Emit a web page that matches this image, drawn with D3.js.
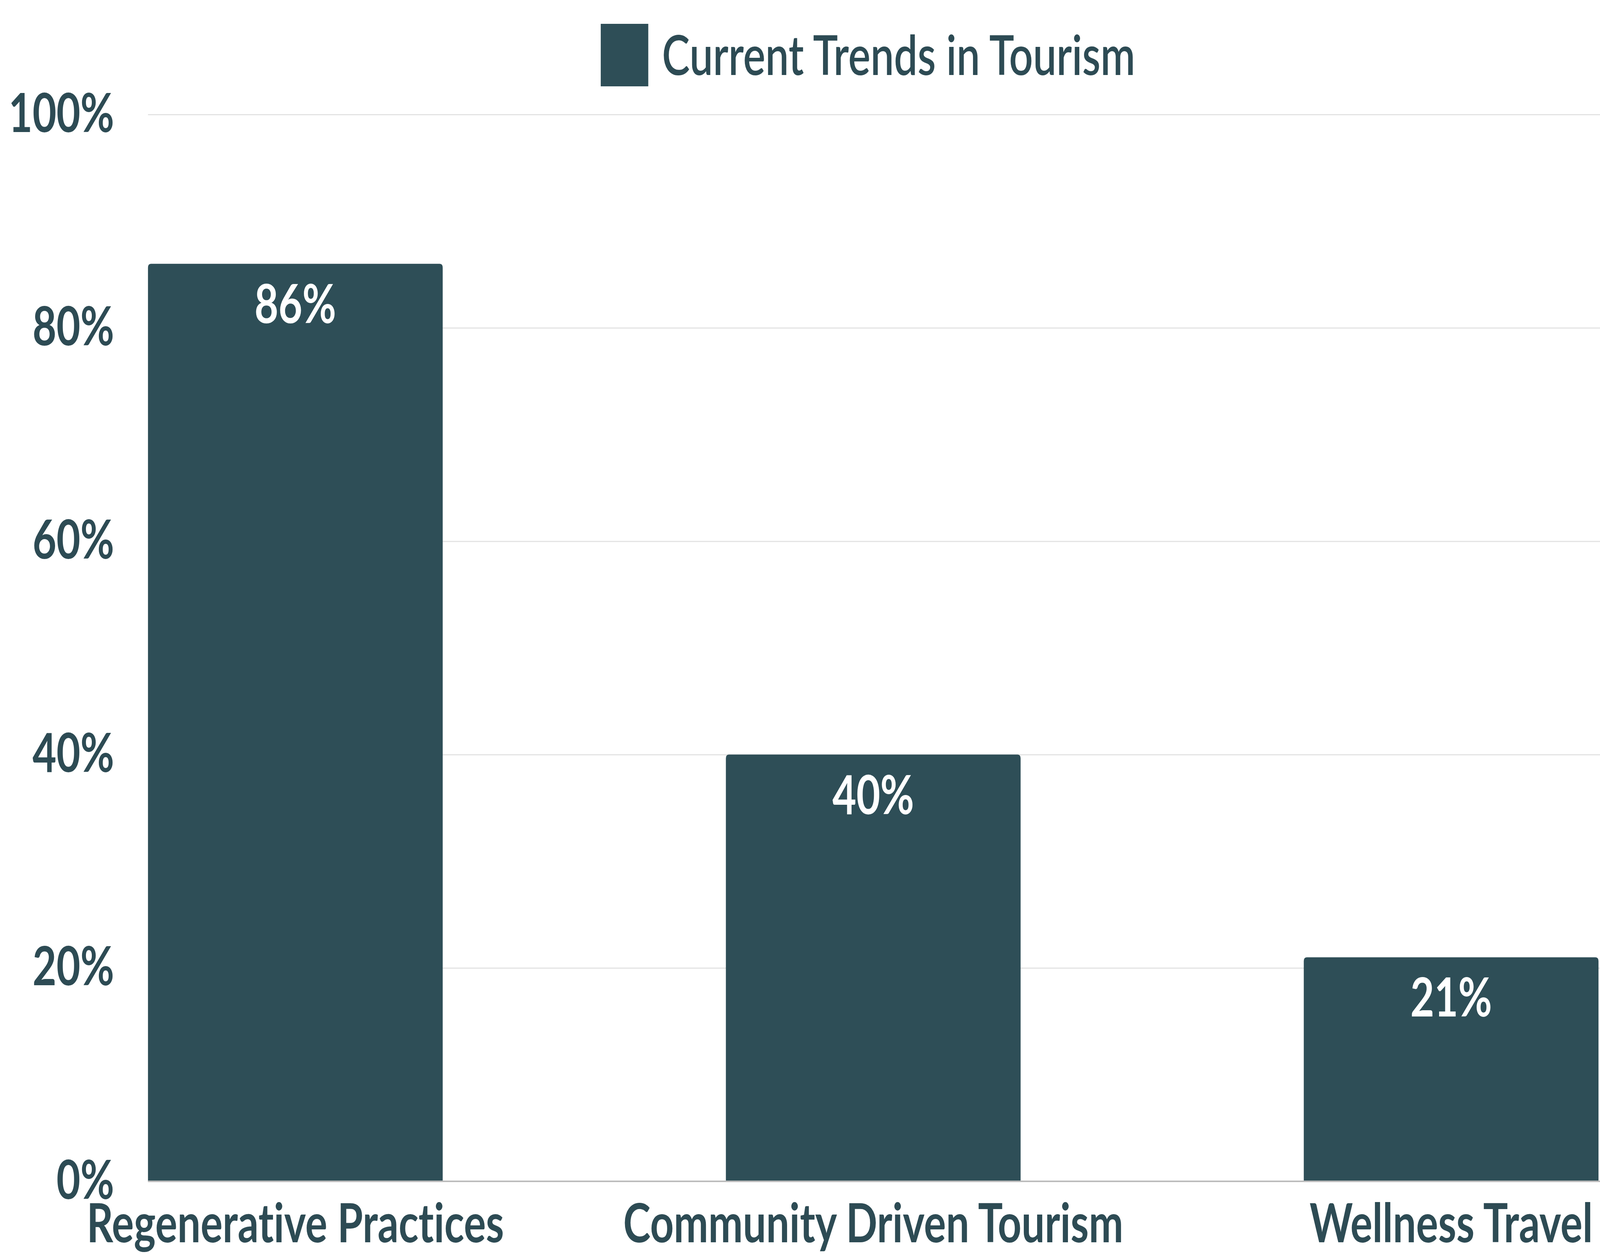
<!DOCTYPE html>
<html>
<head>
<meta charset="utf-8">
<script src="https://cdn.jsdelivr.net/npm/d3@7"></script>
<style>
  html, body { margin: 0; padding: 0; background: #fff; overflow: hidden; }
  svg { display: block; }
  text { font-variant-ligatures: none; }
  .axis text { font-family: Lato, sans-serif; font-weight: 700; fill: #2d4b54; }
</style>
</head>
<body>
<svg id="chart"></svg>
<script>
var categories = ["Regenerative Practices", "Community Driven Tourism", "Wellness Travel"];
var values = [86, 40, 21];
var yTicks = [0, 20, 40, 60, 80, 100];
var seriesName = "Current Trends in Tourism";

var W = 5352,
  H = 3210;
// the window may come out narrower than asked, so the drawing is fitted to it
var svg = d3
  .select("#chart")
  .attr("viewBox", "0 0 " + W + " " + H)
  .attr("preserveAspectRatio", "none")
  .attr("width", window.innerWidth)
  .attr("height", window.innerHeight);

var dims = {
  //plot edges, in drawing units
  top: 293,
  bottom: 3024,
  left: 495,
  right: 5352,
};
var barColor = "#2e4e57";
var textColor = "#2d4b54";
var fontSize = 138;

var xScale = d3
  .scaleBand()
  .domain(categories)
  .range([dims.left, dims.right - 5])
  .paddingInner(0.49)
  .paddingOuter(0);
var yScale = d3.scaleLinear().domain([0, 100]).range([dims.bottom, dims.top]);

//gridlines + tick labels
var yAxis = d3
  .axisLeft(yScale)
  .tickValues(yTicks)
  .tickSize(-(dims.right - dims.left))
  .tickPadding(113)
  .tickFormat((d) => d + "%");

var gy = svg
  .append("g")
  .attr("class", "axis")
  .attr("transform", "translate(" + dims.left + ",0)")
  .call(yAxis);
gy.select(".domain").remove();
gy.selectAll("line").attr("stroke", "#e3e3e3").attr("stroke-width", 3);
gy.selectAll("text").style("font-size", fontSize + "px");

// bars with slightly rounded top corners
function barPath(x, y, w, h, r) {
  return (
    "M" + x + "," + (y + h) +
    "V" + (y + r) +
    "Q" + x + "," + y + " " + (x + r) + "," + y +
    "H" + (x + w - r) +
    "Q" + (x + w) + "," + y + " " + (x + w) + "," + (y + r) +
    "V" + (y + h) + "Z"
  );
}

svg
  .selectAll(".bar")
  .data(values)
  .enter()
  .append("path")
  .attr("class", "bar")
  .attr("fill", barColor)
  .attr("d", (d, i) =>
    barPath(xScale(categories[i]), yScale(d), xScale.bandwidth(), yScale(0) - yScale(d), 10)
  );

//baseline sits on top of the bars
svg
  .append("line")
  .attr("x1", dims.left)
  .attr("x2", dims.right)
  .attr("y1", yScale(0))
  .attr("y2", yScale(0))
  .attr("stroke", "#bcbcbc")
  .attr("stroke-width", 4);

//value labels inside the bars
svg
  .selectAll(".value")
  .data(values)
  .enter()
  .append("text")
  .attr("class", "value")
  .attr("x", (d, i) => xScale(categories[i]) + xScale.bandwidth() / 2)
  .attr("y", (d) => yScale(d) + 152)
  .attr("text-anchor", "middle")
  .style("font-family", "Lato, sans-serif")
  .style("font-weight", 700)
  .style("font-size", fontSize + "px")
  .attr("fill", "#ffffff")
  .text((d) => d + "%");

//category labels, right at the bottom edge like the original
var xAxis = d3.axisBottom(xScale).tickSize(0).tickPadding(0);
var gx = svg
  .append("g")
  .attr("class", "axis")
  .attr("transform", "translate(0," + dims.bottom + ")")
  .call(xAxis);
gx.select(".domain").remove();
gx.selectAll("text")
  .attr("dy", null)
  .attr("y", 156)
  .style("font-size", fontSize + "px");

//legend
var legend = svg.append("g");
legend
  .append("rect")
  .attr("x", 0)
  .attr("y", 61)
  .attr("width", 159)
  .attr("height", 160)
  .attr("fill", barColor);
var legendText = legend
  .append("text")
  .attr("x", 205)
  .attr("y", 192)
  .style("font-family", "Lato, sans-serif")
  .style("font-weight", 600)
  .style("font-size", "140px")
  .attr("fill", textColor)
  .text(seriesName);
var legendWidth = 205 + legendText.node().getComputedTextLength();
legend.attr(
  "transform",
  "translate(" + ((dims.left + dims.right) / 2 - legendWidth / 2 - 20) + ",0)"
);
</script>
</body>
</html>
